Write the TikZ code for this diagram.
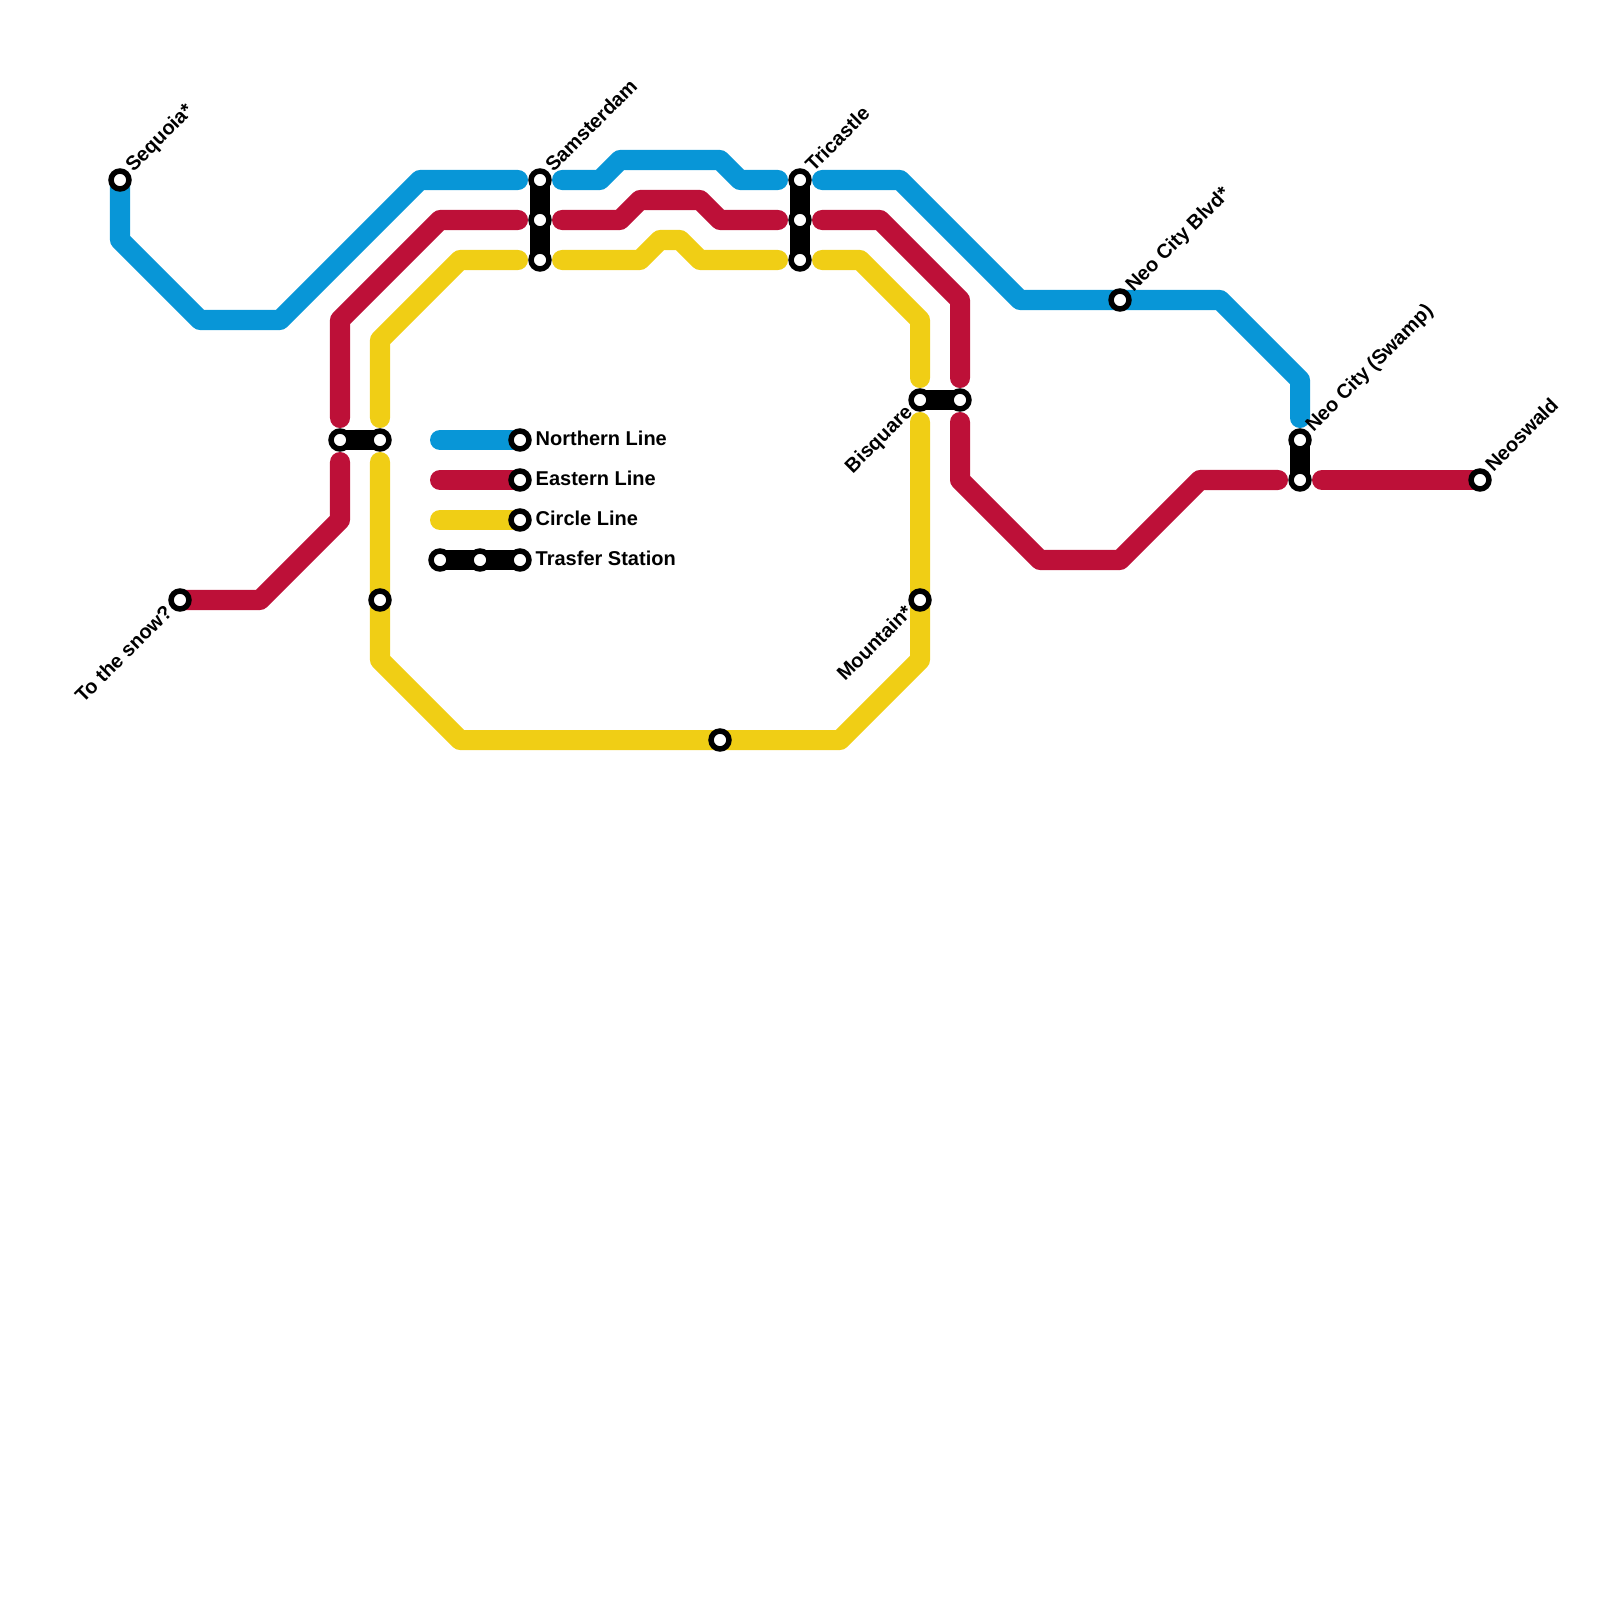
\documentclass[tikz,border=0pt]{standalone}
\usepackage{fontspec}
\setmainfont{Liberation Sans}
\usetikzlibrary{backgrounds}
\definecolor{MMblue}{HTML}{0896D7}
\definecolor{MMred}{HTML}{BD1038}
\definecolor{MMyellow}{HTML}{F0CE15}
\begin{document}
\begin{tikzpicture}[
      x=0.01cm,y=-0.01cm,
      station/.style={circle,draw=black,fill=white,line width=0.55mm,minimum size=1.79mm,inner sep=0pt,outer sep=0pt},
      metro/.style={line width=2mm,line cap=round,line join=round},
      northern/.style={metro,MMblue},
      eastern/.style={metro,MMred},
      circleline/.style={metro,MMyellow},
      transfer/.style={metro,black},
      lbl/.style={font=\fontsize{5.69}{7}\selectfont\bfseries,inner sep=0pt,rotate=45},
      legendlbl/.style={font=\fontsize{5.69}{7}\selectfont\bfseries,inner sep=0pt,anchor=base west}
    ]
    \useasboundingbox (0,0) rectangle (1600,1600);
    \foreach \name/\px/\py in {sequoia/120/180,snow/180/600,cosw/340/440,cose/380/440,cols/380/600,
        samn/540/180,same/540/220,samc/540/260,trin/800/180,trie/800/220,tric/800/260,
        bisw/920/400,bise/960/400,mount/920/600,south/720/740,neoblvd/1120/300,
        swampn/1300/440,swampe/1300/480,neoswald/1480/480,
        legn/520/440,lege/520/480,legc/520/520,legta/440/560,legtb/480/560,legtc/520/560}
      \node[station] (\name) at (\px,\py) {};
    % free ends at the gaps
    \foreach \name/\px/\py in {nl/440/440,el/440/480,cl/440/520,
        bsamw/518/180,bsame/562/180,btriw/778/180,btrie/822/180,bswamp/1300/418,
        rcoss/340/462,rcosn/340/418,rsamw/518/220,rsame/562/220,rtriw/778/220,rtrie/822/220,
        rbisn/960/378,rbiss/960/422,rswampw/1278/480,rswampe/1322/480,
        ycosn/380/418,ycoss/380/462,ysamw/518/260,ysame/562/260,ytriw/778/260,ytrie/822/260,
        ybisn/920/378,ybiss/920/422}
      \coordinate (\name) at (\px,\py);
    \begin{pgfonlayer}{background}
      \draw[northern] (sequoia.center) -- (120,240) -- (200,320) -- (280,320) -- (420,180) -- (bsamw);
      \draw[northern] (bsame) -- (600,180) -- (620,160) -- (720,160) -- (740,180) -- (btriw);
      \draw[northern] (btrie) -- (900,180) -- (1020,300) -- (1220,300) -- (1300,380) -- (bswamp);
      \draw[eastern] (snow.center) -- (260,600) -- (340,520) -- (rcoss);
      \draw[eastern] (rcosn) -- (340,320) -- (440,220) -- (rsamw);
      \draw[eastern] (rsame) -- (620,220) -- (640,200) -- (700,200) -- (720,220) -- (rtriw);
      \draw[eastern] (rtrie) -- (880,220) -- (960,300) -- (rbisn);
      \draw[eastern] (rbiss) -- (960,480) -- (1040,560) -- (1120,560) -- (1200,480) -- (rswampw);
      \draw[eastern] (rswampe) -- (neoswald.center);
      \draw[circleline] (ycosn) -- (380,340) -- (460,260) -- (ysamw);
      \draw[circleline] (ysame) -- (640,260) -- (660,240) -- (680,240) -- (700,260) -- (ytriw);
      \draw[circleline] (ytrie) -- (860,260) -- (920,320) -- (ybisn);
      \draw[circleline] (ybiss) -- (920,660) -- (840,740) -- (460,740) -- (380,660) -- (ycoss);
      \draw[northern] (nl) -- (legn.center);
      \draw[eastern] (el) -- (lege.center);
      \draw[circleline] (cl) -- (legc.center);
      \draw[transfer] (cosw.center) -- (cose.center);
      \draw[transfer] (samn.center) -- (samc.center);
      \draw[transfer] (trin.center) -- (tric.center);
      \draw[transfer] (bisw.center) -- (bise.center);
      \draw[transfer] (swampn.center) -- (swampe.center);
      \draw[transfer] (legta.center) -- (legtc.center);
    \end{pgfonlayer}
    \node[lbl,anchor=base west] (lsequoia) at (133,173) {Sequoia*};
    \node[lbl,anchor=base west] (lsam) at (553,173) {Samsterdam};
    \node[lbl,anchor=base west] (ltri) at (813,173) {Tricastle};
    \node[lbl,anchor=base west] (lblvd) at (1133,293) {Neo City Blvd*};
    \node[lbl,anchor=base west] (lswamp) at (1313,433) {Neo City (Swamp)};
    \node[lbl,anchor=base west] (lneos) at (1493,473) {Neoswald};
    \node[lbl,anchor=base east] (lsnow) at (174,613) {To the snow?};
    \node[lbl,anchor=base east] (lbis) at (914,413) {Bisquare};
    \node[lbl,anchor=base east] (lmount) at (914,613) {Mountain*};
    \node[legendlbl] (tn) at (535,445) {Northern Line};
    \node[legendlbl] (te) at (535,485) {Eastern Line};
    \node[legendlbl] (tc) at (535,525) {Circle Line};
    \node[legendlbl] (tt) at (535,565) {Trasfer Station};
  \end{tikzpicture}
\end{document}
